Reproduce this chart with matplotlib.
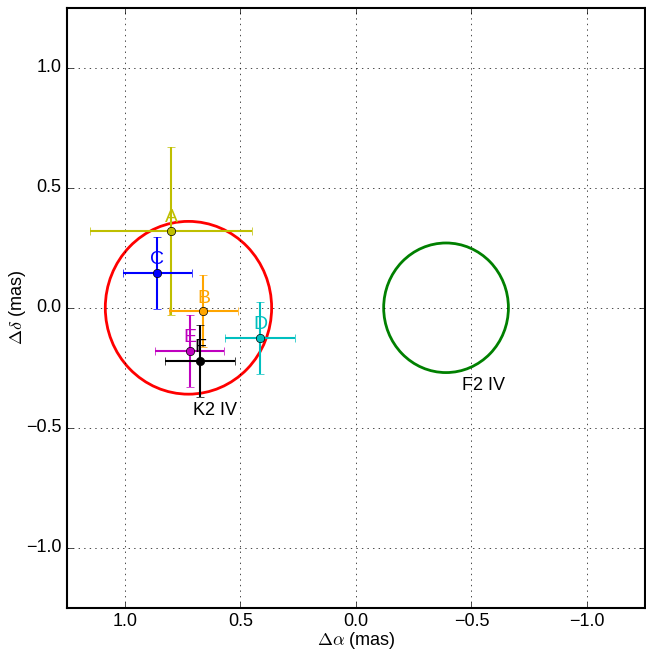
import numpy as np
import matplotlib
matplotlib.use("Agg")
import matplotlib.pyplot as plt
from matplotlib.patches import Circle

plt.style.use("classic")
plt.rcParams["font.family"] = ["Liberation Sans", "DejaVu Sans"]
plt.rcParams["figure.facecolor"] = "white"
plt.rcParams["font.size"] = 13
plt.rcParams["axes.linewidth"] = 1.5

# relative astrometry of the companions (mas)
labels = ["A", "C", "B", "D", "E", "F"]
colors = ["y", "b", "orange", "c", "m", "k"]
dra = [0.80, 0.86, 0.66, 0.415, 0.72, 0.675]
ddec = [0.32, 0.145, -0.015, -0.125, -0.18, -0.22]
dra_err = [0.35, 0.15, 0.15, 0.15, 0.15, 0.15]
ddec_err = [0.35, 0.15, 0.15, 0.15, 0.15, 0.15]

# predicted orbits for the two spectral types
orbit_names = ["K2 IV", "F2 IV"]
orbit_colors = ["r", "g"]
orbit_x = [0.725, -0.39]
orbit_r = [0.36, 0.27]
name_pos = [(0.705, -0.43), (-0.46, -0.325)]

fig = plt.figure(figsize=(6.46, 6.50), dpi=100)
ax = fig.add_axes([0.104, 0.065, 0.894, 0.923])

for x, y, ex, ey, c, lab in zip(dra, ddec, dra_err, ddec_err, colors, labels):
    ax.errorbar(x, y, xerr=ex, yerr=ey, fmt="o", color=c, ecolor=c,
                mec="k", mew=0.5, ms=6, capsize=3, elinewidth=1.5, zorder=3)
    ax.text(x, y + 0.055, lab, color=c, fontsize=14, ha="center", va="center",
            zorder=4)

for name, c, cx, r, (tx, ty) in zip(orbit_names, orbit_colors, orbit_x,
                                    orbit_r, name_pos):
    ax.add_patch(Circle((cx, 0.0), r, fill=False, ec=c, lw=2, zorder=2))
    ax.text(tx, ty, name, fontsize=13, ha="left", va="center")

ax.set_xlim(1.25, -1.25)
ax.set_ylim(-1.25, 1.25)
ax.set_xticks([1.0, 0.5, 0.0, -0.5, -1.0])
ax.set_yticks([-1.0, -0.5, 0.0, 0.5, 1.0])
ax.tick_params(labelsize=13)
ax.grid(True)
ax.set_xlabel(r"$\Delta\alpha$ (mas)", fontsize=13, labelpad=0)
ax.set_ylabel(r"$\Delta\delta$ (mas)", fontsize=13)
ax.yaxis.set_label_coords(-0.068, 0.5)

fig.savefig("out.png", dpi=100)
